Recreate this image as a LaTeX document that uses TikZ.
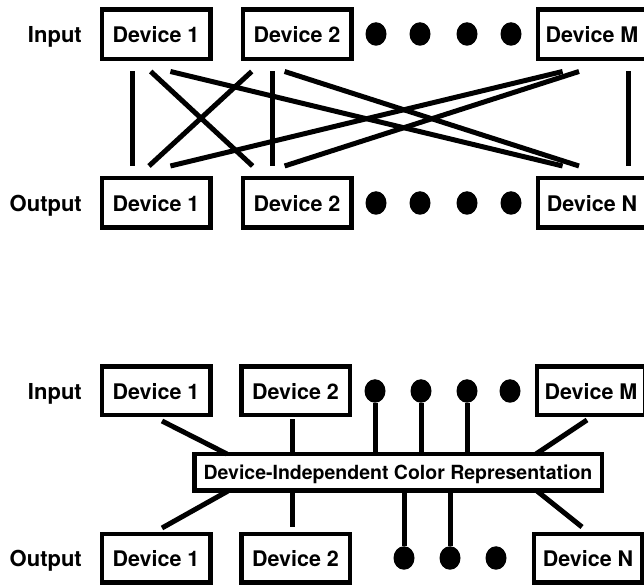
\documentclass[tikz,border=0pt]{standalone}
\usepackage{fontspec}
\setmainfont{TeX Gyre Heros}
\usetikzlibrary{shapes.geometric}
\begin{document}
\begin{tikzpicture}[x=1pt,y=1pt,
  dev/.style={draw, line width=4.5pt, minimum width=108.5pt, minimum height=49.5pt,
    inner sep=0pt, text depth=0pt, font=\fontsize{21.5}{25}\selectfont\bfseries},
  devlow/.style={dev, minimum height=48.5pt},
  hubbox/.style={draw, line width=4.5pt, minimum width=407.5pt, minimum height=36.5pt,
    inner sep=0pt, text depth=0pt, font=\fontsize{19.5}{23}\selectfont\bfseries},
  lab/.style={anchor=east, inner sep=0pt, text depth=0pt, font=\fontsize{22}{26}\selectfont\bfseries},
  blob/.style={ellipse, fill=black, minimum width=21pt, minimum height=23.5pt, inner sep=0pt, outer sep=0pt},
  wire/.style={line width=5pt}]
\useasboundingbox (0,0) rectangle (644,585);

% ---------- all-to-all connection: every input to every output ----------
\node[lab] (inlab)  at (82,550.5) {Input};
\node[lab] (outlab) at (82,382) {Output};

\node[dev] (in1) at (156,550.5) {Device 1};
\node[dev] (in2) at (297,550.5) {Device 2};
\node[dev] (inM) at (592,550.5) {Device M};
\node[blob] (ia) at (376,551) {};
\node[blob] (ib) at (420,551) {};
\node[blob] (ic) at (467,551) {};
\node[blob] (id) at (511,551) {};

\node[dev] (out1) at (156,382) {Device 1};
\node[dev] (out2) at (297,382) {Device 2};
\node[dev] (outN) at (592,382) {Device N};
\node[blob] (oa) at (376,382) {};
\node[blob] (ob) at (420,382) {};
\node[blob] (oc) at (467,382) {};
\node[blob] (od) at (511,382) {};

\draw[wire] ([xshift=-23.3,yshift=-10]in1.south) -- ([xshift=-23.3,yshift=10]out1.north);
\draw[wire] ([xshift=-5.3,yshift=-10]in1.south)  -- ([xshift=-44.4,yshift=10]out2.north);
\draw[wire] ([xshift=14.4,yshift=-10]in1.south)  -- ([xshift=-29.4,yshift=10]outN.north);
\draw[wire] ([xshift=-45.3,yshift=-10]in2.south) -- ([xshift=-7,yshift=10]out1.north);
\draw[wire] ([xshift=-24.7,yshift=-10]in2.south) -- ([xshift=-24.7,yshift=10]out2.north);
\draw[wire] ([xshift=-12.4,yshift=-10]in2.south) -- ([xshift=-13,yshift=10]outN.north);
\draw[wire] ([xshift=-29.4,yshift=-10]inM.south) -- ([xshift=14.4,yshift=10]out1.north);
\draw[wire] ([xshift=-13,yshift=-10]inM.south)   -- ([xshift=-12.4,yshift=10]out2.north);
\draw[wire] ([xshift=36,yshift=-10]inM.south)    -- ([xshift=36,yshift=10]outN.north);

% ---------- hub: every device goes through one shared representation ----------
\node[lab] (inlab2)  at (82,194) {Input};
\node[lab] (outlab2) at (82,27) {Output};

\node[devlow] (bi1) at (156,194) {Device 1};
\node[devlow] (bi2) at (295.5,194) {Device 2};
\node[devlow] (biM) at (591,194) {Device M};
\node[blob] (bia) at (375,194) {};
\node[blob] (bib) at (421,194) {};
\node[blob] (bic) at (467,194) {};
\node[blob] (bid) at (510,194) {};

\node[hubbox] (hub) at (398,112.5) {Device-Independent Color Representation};

\node[devlow] (bo1) at (156,26.5) {Device 1};
\node[devlow] (bo2) at (295.5,26.5) {Device 2};
\node[devlow] (boN) at (588,26.5) {Device N};
\node[blob] (boa) at (404,27) {};
\node[blob] (bob) at (450,27) {};
\node[blob] (boc) at (496,27) {};

\draw[wire] ([xshift=6,yshift=-3.5]bi1.south) -- ([xshift=-171,yshift=-2]hub.north);
\draw[wire] ([xshift=-2.7,yshift=-2]bi2.south)  -- ([xshift=-105.2,yshift=-2]hub.north);
\draw[wire] (bia) -- (bia |- hub.north);
\draw[wire] (bib) -- (bib |- hub.north);
\draw[wire] (bic) -- (bic |- hub.north);
\draw[wire] ([xshift=-4,yshift=-2.5]biM.south) -- ([xshift=138,yshift=-2]hub.north);

\draw[wire] ([xshift=-170,yshift=2]hub.south)   -- ([xshift=6,yshift=4]bo1.north);
\draw[wire] ([xshift=-105.2,yshift=2]hub.south) -- ([xshift=-2.7,yshift=5]bo2.north);
\draw[wire] (hub.south -| boa) -- (boa);
\draw[wire] (hub.south -| bob) -- (bob);
\draw[wire] ([xshift=139,yshift=2]hub.south)    -- ([xshift=-6,yshift=5]boN.north);
\end{tikzpicture}
\end{document}
